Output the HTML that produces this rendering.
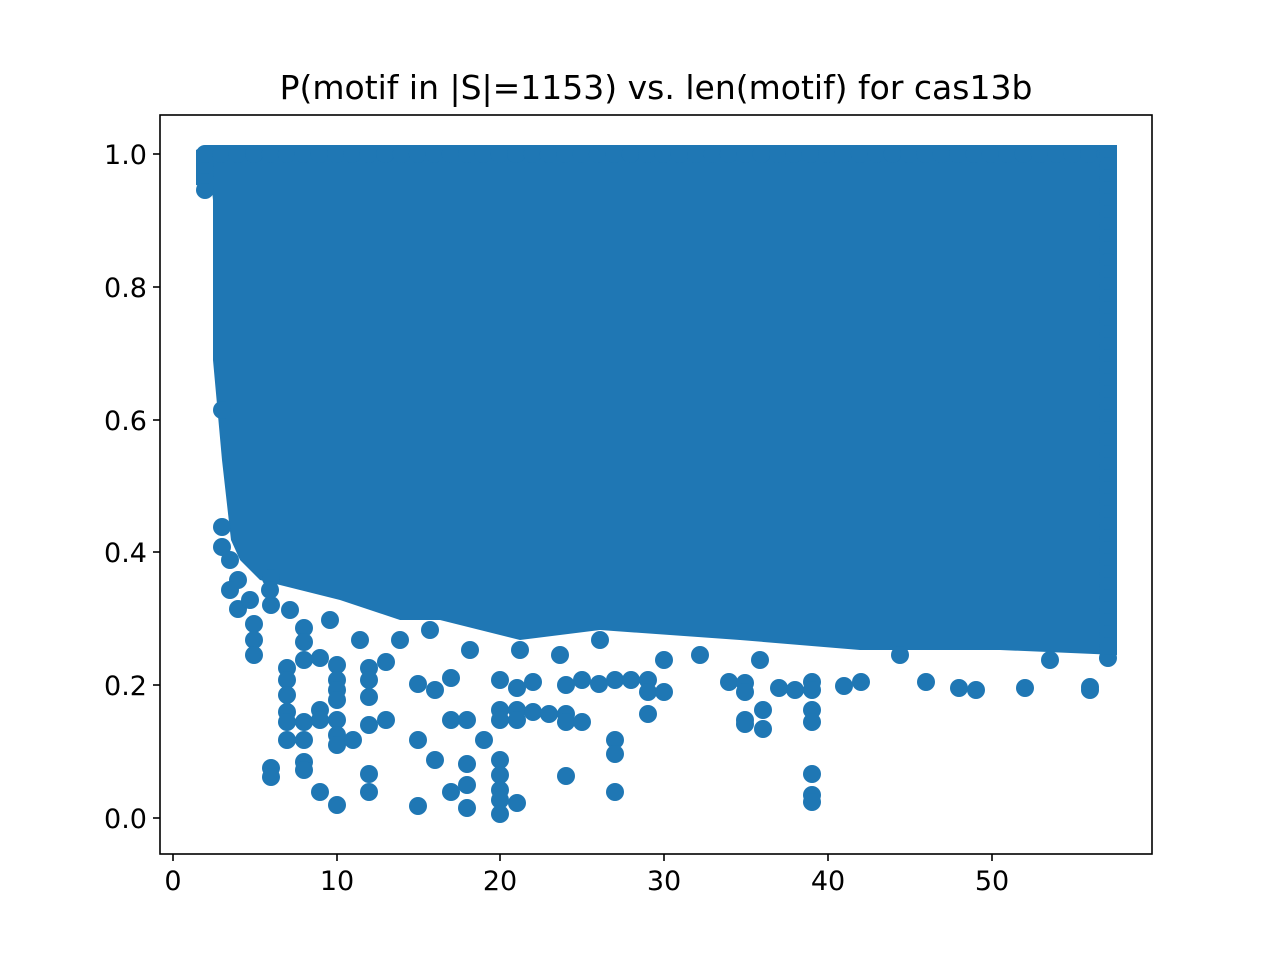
<!DOCTYPE html>
<html><head><meta charset="utf-8"><style>body{margin:0;background:#fff}</style></head><body>
<svg width="1280" height="960" xmlns="http://www.w3.org/2000/svg" font-family="DejaVu Sans, Liberation Sans, sans-serif">
<rect width="1280" height="960" fill="#fff"/>
<g fill="#1f77b4">
<path d="M205,145 L1117,145 L1117,655 L1000,650 L860,650 L740,640 L600,630 L520,640 L440,620 L400,620 L340,600 L300,590 L260,580 L240,560 L231,540 L222,460 L213,360 L213,200 L212,190 L196,185 L196,150 Z"/>
<g id="pts"></g>
</g>
<g stroke="#000" stroke-width="1.6" fill="none">
<rect x="160" y="115" width="992" height="739"/>
</g>
<g stroke="#000" stroke-width="1.6">
<line x1="173" y1="854" x2="173" y2="861"/><line x1="337" y1="854" x2="337" y2="861"/><line x1="500" y1="854" x2="500" y2="861"/><line x1="664" y1="854" x2="664" y2="861"/><line x1="828" y1="854" x2="828" y2="861"/><line x1="992" y1="854" x2="992" y2="861"/>
<line x1="153" y1="154" x2="160" y2="154"/><line x1="153" y1="287" x2="160" y2="287"/><line x1="153" y1="420" x2="160" y2="420"/><line x1="153" y1="552" x2="160" y2="552"/><line x1="153" y1="685" x2="160" y2="685"/><line x1="153" y1="818" x2="160" y2="818"/>
</g>
<g font-size="27" text-anchor="middle" fill="#000">
<text x="173" y="890">0</text><text x="337" y="890">10</text><text x="500" y="890">20</text><text x="664" y="890">30</text><text x="828" y="890">40</text><text x="992" y="890">50</text>
</g>
<g font-size="27" text-anchor="end" fill="#000">
<text x="147" y="164">1.0</text><text x="147" y="297">0.8</text><text x="147" y="430">0.6</text><text x="147" y="562">0.4</text><text x="147" y="695">0.2</text><text x="147" y="828">0.0</text>
</g>
<text x="656" y="99" font-size="33" text-anchor="middle" fill="#000">P(motif in |S|=1153) vs. len(motif) for cas13b</text>
</svg>
<script>
var p=[[222,527],[222,547],[222,410],[238,580],[238,609],[254,624],[254,640],[254,655],[271,578],[271,605],[287,668],[287,680],[287,695],[287,712],[287,740],[287,722],[271,768],[271,777],[304,628],[304,642],[304,660],[304,722],[304,740],[304,762],[304,770],[320,658],[320,710],[320,720],[320,792],[337,665],[337,680],[337,690],[337,700],[337,720],[337,735],[337,745],[337,805],[353,740],[369,668],[369,680],[369,697],[369,725],[369,774],[369,792],[386,662],[386,720],[418,740],[418,806],[418,684],[435,760],[435,690],[451,678],[451,720],[451,792],[467,720],[467,764],[467,785],[467,808],[484,740],[500,680],[500,710],[500,720],[500,760],[500,775],[500,790],[500,800],[500,814],[517,688],[517,710],[517,720],[517,803],[533,682],[533,712],[549,714],[566,685],[566,714],[566,722],[566,776],[582,680],[582,722],[599,684],[615,680],[615,740],[615,754],[615,792],[631,680],[648,680],[648,692],[648,714],[664,692],[664,660],[729,682],[745,683],[745,692],[745,720],[745,724],[763,710],[763,729],[779,688],[795,690],[812,682],[812,690],[812,710],[812,722],[812,774],[812,795],[812,802],[844,686],[861,682],[926,682],[959,688],[976,690],[1025,688],[1090,687],[1090,690],[230,560],[230,590],[250,600],[270,590],[290,610],[330,620],[360,640],[400,640],[430,630],[470,650],[520,650],[560,655],[600,640],[700,655],[760,660],[900,655],[1050,660],[1108,658],[205,190],[205,175],[205,165]];
var g=document.getElementById('pts'),s='';
p.forEach(function(a){s+='<circle cx="'+a[0]+'" cy="'+a[1]+'" r="9"/>';});
for(var x=205;x<=1110;x+=16.37){s+='<circle cx="'+x+'" cy="154" r="9"/>';}
for(var y=154;y<=655;y+=12){s+='<circle cx="1108" cy="'+y+'" r="9"/>';}
g.innerHTML=s;
</script>
</body></html>
